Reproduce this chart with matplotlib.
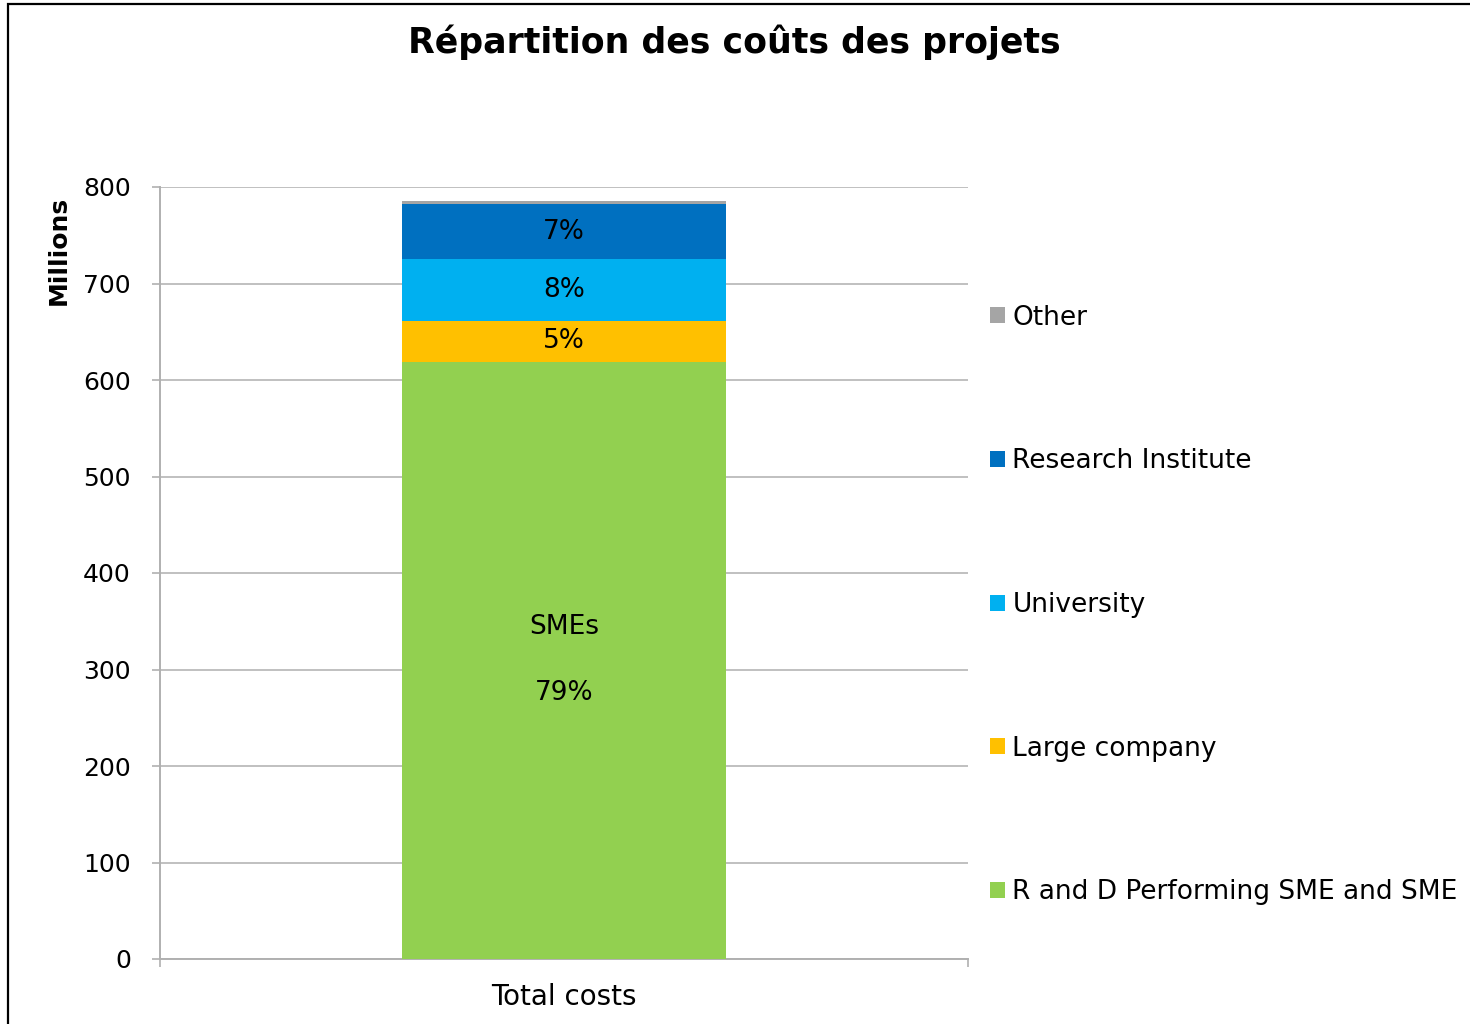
import matplotlib.pyplot as plt
import matplotlib.patches as mpatches
import numpy as np

# data (millions)
category = ["Total costs"]
series = ["R and D Performing SME and SME", "Large company", "University",
          "Research Institute", "Other"]
values = [619, 42, 64, 57, 3]
labels = ["SMEs\n\n79%", "5%", "8%", "7%", ""]
colors = ["#92D050", "#FFC000", "#00B0F0", "#0070C0", "#A5A5A5"]

plt.rcParams['font.family'] = ['DejaVu Sans']

fig = plt.figure(figsize=(14.7, 10.24), dpi=100)
ax = fig.add_axes([160 / 1470, 1 - 959 / 1024, 808 / 1470, 772 / 1024])

x = np.arange(len(category))
bottom = 0
handles = []
for name, val, lab, col in zip(series, values, labels, colors):
    bars = ax.bar(x, [val], width=0.4, bottom=bottom, color=col, label=name, zorder=3)
    handles.append(bars)
    if lab:
        ax.text(x[0], bottom + val / 2, lab, ha='center', va='center',
                fontsize=19, color='black', zorder=4, linespacing=1.35)
    bottom += val

ax.set_xlim(-0.5, 0.5)
ax.set_ylim(0, 800)
ax.set_yticks(np.arange(0, 801, 100))
ax.set_xticks(x)
ax.set_xticklabels(category, fontsize=20)
ax.tick_params(axis='x', length=0, pad=17)
ax.set_xticks([-0.5, 0.5], minor=True)
ax.tick_params(axis='x', which='minor', length=6, color='#b0b0b0', width=1.2)
ax.tick_params(axis='y', labelsize=18, length=6, color='#b0b0b0', width=1.2, pad=15)

ax.grid(axis='y', color='#c0c0c0', linewidth=1.4, zorder=0)
for s in ['top', 'right']:
    ax.spines[s].set_visible(False)
for s in ['left', 'bottom']:
    ax.spines[s].set_color('#b0b0b0')
    ax.spines[s].set_linewidth(1.4)

ax.set_ylabel("Millions", fontsize=18, fontweight='bold')
ax.yaxis.set_label_coords(-0.111, 0.918)

fig.suptitle("Répartition des coûts des projets", fontsize=25, fontweight='bold',
             x=734 / 1470, y=1 - 42 / 1024, va='center')

leg = fig.legend(handles[::-1], series[::-1], loc='center left',
                 bbox_to_anchor=(990 / 1470, 1 - 605 / 1024), frameon=False,
                 fontsize=19, handlelength=0.55, handleheight=0.55,
                 handletextpad=0.3, labelspacing=4.46, borderpad=0, borderaxespad=0)

# outer frame of the chart object
fig.patches.append(mpatches.Rectangle((8 / 1470, -0.1), 1.2, 1.1 - 4 / 1024,
                                      transform=fig.transFigure, fill=False,
                                      edgecolor='black', linewidth=1.6))

plt.savefig("out.png", dpi=100)
